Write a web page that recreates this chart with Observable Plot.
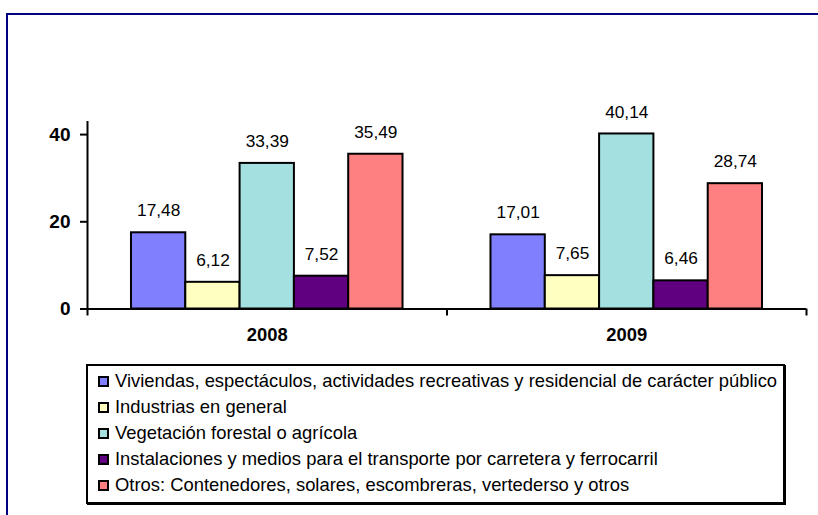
<!DOCTYPE html>
<html><head><meta charset="utf-8">
<script src="https://cdn.jsdelivr.net/npm/d3@7"></script>
<script src="https://cdn.jsdelivr.net/npm/@observablehq/plot@0.6"></script>
<style>
body{margin:0;background:#fff;font-family:"Liberation Sans",Arial,sans-serif;}
#wrap{position:relative;width:818px;height:515px;overflow:hidden;background:#fff;}
#frame{position:absolute;left:6px;top:13px;width:840px;height:540px;border:2px solid #000080;box-sizing:border-box;}
#chart{position:absolute;left:0;top:0;}
#legend{position:absolute;left:86px;top:364px;width:699px;height:140px;border:2px solid #000;box-sizing:border-box;box-shadow:1px 1px 0 #000;padding:2px 0 0 10px;}
.item{display:flex;align-items:center;height:26px;font-size:18.4px;color:#000;white-space:nowrap;}
.sw{width:7px;height:7px;border:2px solid #000;margin-right:6px;flex:none;}
</style></head>
<body>
<div id="wrap"><div id="frame"></div><div id="chart"></div><div id="legend"></div></div>
<script>
const years = ["2008", "2009"];
const categories = [
  "Viviendas, espectáculos, actividades recreativas y residencial de carácter público",
  "Industrias en general",
  "Vegetación forestal o agrícola",
  "Instalaciones y medios para el transporte por carretera y ferrocarril",
  "Otros: Contenedores, solares, escombreras, vertederso y otros"
];
const values2008 = [17.48, 6.12, 33.39, 7.52, 35.49];
const values2009 = [17.01, 7.65, 40.14, 6.46, 28.74];
const colors = ["#8080FF", "#FFFFC0", "#A4E0E0", "#600080", "#FF8080"];
const yTicks = [0, 20, 40];

const series = [values2008, values2009];
const GROUP_PAD = 0.81;
const STEP = categories.length + 2 * GROUP_PAD;
const fmt = v => v.toFixed(2).replace(".", ",");

const rows = [];
years.forEach((yr, g) => series[g].forEach((v, c) => rows.push({
  year: yr, category: categories[c], value: v, label: fmt(v),
  x1: g * STEP + GROUP_PAD + c, x2: g * STEP + GROUP_PAD + c + 1
})));
const edges = d3.range(years.length + 1).map(g => g * STEP);
const centers = years.map((yr, g) => ({year: yr, x: g * STEP + STEP / 2}));

const H = 350;
const chart = Plot.plot({
  width: 818, height: H,
  marginLeft: 87, marginRight: 12, marginTop: 121, marginBottom: H - 308.5,
  x: {domain: [0, years.length * STEP]},
  y: {domain: [0, 43]},
  color: {domain: categories, range: colors},
  style: {fontFamily: "'Liberation Sans', Arial, sans-serif", background: "transparent", overflow: "visible", color: "#000"},
  marks: [
    Plot.rectY(rows, {x1: "x1", x2: "x2", y: "value", fill: "category", stroke: "#000", strokeWidth: 2}),
    Plot.text(rows, {x: d => d.x1 + 0.5, y: "value", text: "label", dy: -22, fontSize: 17.3, fill: "#000"}),
    Plot.ruleY([0], {stroke: "#000", strokeWidth: 2}),
    Plot.ruleX([0], {y1: 0, y2: 43, stroke: "#000", strokeWidth: 2}),
    Plot.axisY({ticks: yTicks, tickSize: 7, tickPadding: 10, strokeWidth: 2, fontSize: 19, fontWeight: "bold", label: null}),
    Plot.axisX({ticks: edges, tickSize: 7, strokeWidth: 2, tickFormat: () => "", label: null}),
    Plot.text(centers, {x: "x", text: "year", frameAnchor: "bottom", dy: 32, fontSize: 18.4, fontWeight: "bold", fill: "#000"})
  ]
});
document.getElementById("chart").appendChild(chart);

const legend = d3.select("#legend");
categories.forEach((c, i) => {
  const it = legend.append("div").attr("class", "item");
  it.append("div").attr("class", "sw").style("background", colors[i]);
  it.append("span").text(c);
});
</script>
</body></html>
